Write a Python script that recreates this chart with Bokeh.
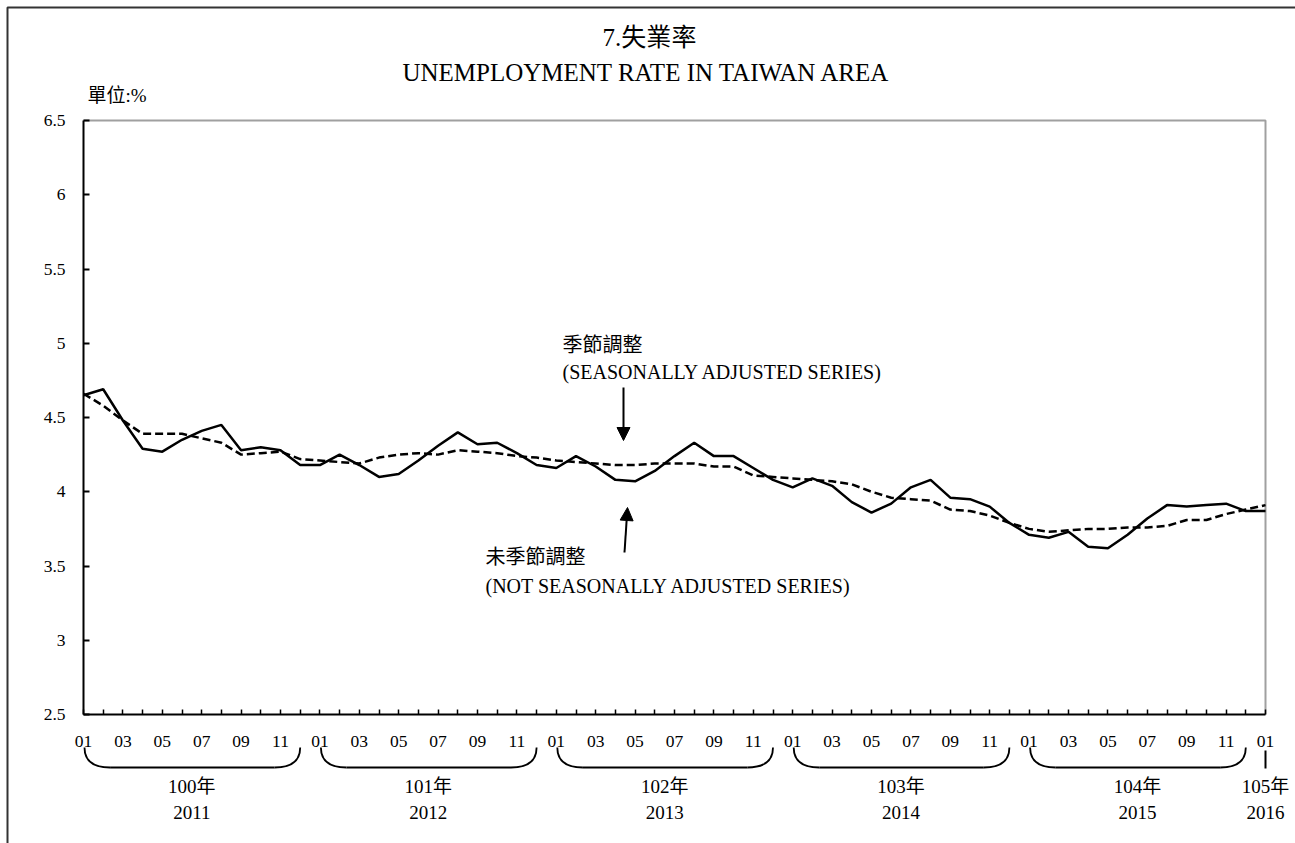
from bokeh.plotting import figure
from bokeh.models import Range1d, FixedTicker, Arrow, NormalHead
from bokeh.core.properties import value
from bokeh.embed import file_html
from bokeh.resources import INLINE

# ---------------- data ----------------
months = ["01", "02", "03", "04", "05", "06", "07", "08", "09", "10", "11", "12"]
roc_years = ["100年", "101年", "102年", "103年", "104年", "105年"]
ad_years = ["2011", "2012", "2013", "2014", "2015", "2016"]

# not seasonally adjusted (2011-01 .. 2016-01)
nsa = [4.65, 4.69, 4.48, 4.29, 4.27, 4.35, 4.41, 4.45, 4.28, 4.30, 4.28, 4.18,
       4.18, 4.25, 4.18, 4.10, 4.12, 4.21, 4.31, 4.40, 4.32, 4.33, 4.26, 4.18,
       4.16, 4.24, 4.17, 4.08, 4.07, 4.14, 4.24, 4.33, 4.24, 4.24, 4.16, 4.08,
       4.03, 4.09, 4.04, 3.93, 3.86, 3.92, 4.03, 4.08, 3.96, 3.95, 3.90, 3.79,
       3.71, 3.69, 3.73, 3.63, 3.62, 3.71, 3.82, 3.91, 3.90, 3.91, 3.92, 3.87,
       3.87]
# seasonally adjusted
sa = [4.66, 4.58, 4.48, 4.39, 4.39, 4.39, 4.36, 4.33, 4.25, 4.26, 4.27, 4.22,
      4.21, 4.20, 4.19, 4.23, 4.25, 4.26, 4.25, 4.28, 4.27, 4.26, 4.24, 4.23,
      4.21, 4.20, 4.19, 4.18, 4.18, 4.19, 4.19, 4.19, 4.17, 4.17, 4.11, 4.10,
      4.09, 4.08, 4.07, 4.05, 4.00, 3.96, 3.95, 3.94, 3.88, 3.87, 3.84, 3.79,
      3.75, 3.73, 3.74, 3.75, 3.75, 3.76, 3.76, 3.77, 3.81, 3.81, 3.85, 3.88,
      3.91]
y_ticks = [2.5, 3, 3.5, 4, 4.5, 5, 5.5, 6, 6.5]
y_tick_labels = ["2.5", "3", "3.5", "4", "4.5", "5", "5.5", "6", "6.5"]

title_zh = "7.失業率"
title_en = "UNEMPLOYMENT RATE IN TAIWAN AREA"
unit_text = "單位:%"
sa_zh = "季節調整"
sa_en = "(SEASONALLY  ADJUSTED SERIES)"
nsa_zh = "未季節調整"
nsa_en = "(NOT SEASONALLY  ADJUSTED SERIES)"

# ---------------- layout (pixels) ----------------
W, H = 1295, 843
FX0, FX1 = 83, 1265      # pixel x of first / last month
FY_BOT, FY_TOP = 714, 120  # pixel y of 2.5 / 6.5
N = len(nsa)
ppx = (FX1 - FX0) / (N - 1)
ppy = (FY_BOT - FY_TOP) / (y_ticks[-1] - y_ticks[0])


def X(px):
    return (px - FX0) / ppx


def Y(py):
    return y_ticks[0] + (FY_BOT - py) / ppy


SERIF = "Liberation Serif, Noto Sans CJK TC"

p = figure(width=W, height=H, output_backend="svg", toolbar_location=None,
           x_range=Range1d(X(0), X(W)), y_range=Range1d(Y(H), Y(0)),
           min_border=0, background_fill_color="white", border_fill_color="white")
p.outline_line_color = None
p.grid.visible = False

xs = list(range(N))

# axes
xa = p.xaxis[0]
xa.fixed_location = y_ticks[0]
xa.bounds = (0, N - 1)
xa.ticker = FixedTicker(ticks=xs)
xa.major_label_overrides = {i: (months[i % 12] if i % 2 == 0 else "") for i in xs}
xa.minor_tick_line_color = None
xa.major_tick_in = 5
xa.major_tick_out = 0
xa.major_tick_line_width = 1.5
xa.axis_line_width = 2
xa.major_label_standoff = 21
xa.major_label_text_font = SERIF
xa.major_label_text_font_size = "17.5px"
xa.major_label_text_color = "black"

ya = p.yaxis[0]
ya.fixed_location = 0
ya.bounds = (y_ticks[0], y_ticks[-1])
ya.ticker = FixedTicker(ticks=y_ticks)
ya.major_label_overrides = {t: l for t, l in zip(y_ticks, y_tick_labels)}
ya.minor_tick_line_color = None
ya.major_tick_in = 6
ya.major_tick_out = 0
ya.major_tick_line_width = 2
ya.axis_line_width = 2
ya.major_label_standoff = 18
ya.major_label_text_font = SERIF
ya.major_label_text_font_size = "17.5px"
ya.major_label_text_color = "black"

# grey frame top / right
p.line([0, N - 1, N - 1], [y_ticks[-1], y_ticks[-1], y_ticks[0]], line_color="#a0a0a0", line_width=2)

# outer border (left/top)
p.line([X(7), X(7), X(W)], [Y(H), Y(7), Y(7)], line_color="#333333", line_width=2)

# series
p.line(xs, sa, line_color="black", line_width=2.5, line_dash="8 4")
p.line(xs, nsa, line_color="black", line_width=2.5)

# titles
p.text(x=[X(649), X(646)], y=[Y(37), Y(72)], text=[title_zh, title_en],
       text_font=value(SERIF), text_font_size="25px", text_align="center",
       text_baseline="middle", text_color="black")
p.text(x=[X(87)], y=[Y(95)], text=[unit_text], text_font=value(SERIF),
       text_font_size="19px", text_align="left", text_baseline="middle", text_color="black")

# annotations
p.text(x=[X(562), X(562), X(485), X(485)], y=[Y(344), Y(371), Y(556), Y(585)],
       text=[sa_zh, sa_en, nsa_zh, nsa_en], text_font=value(SERIF),
       text_font_size="20px", text_align="left", text_baseline="middle", text_color="black")
p.add_layout(Arrow(end=NormalHead(size=13, fill_color="black", line_color="black"),
                   x_start=X(623), y_start=Y(387), x_end=X(623), y_end=Y(440),
                   line_width=2, line_color="black"))
p.add_layout(Arrow(end=NormalHead(size=13, fill_color="black", line_color="black"),
                   x_start=X(624), y_start=Y(552), x_end=X(627), y_end=Y(507),
                   line_width=2, line_color="black"))

# year braces
nyears = len(roc_years) - 1
yt, yb = Y(747), Y(767)
cur = 1.3
bx0 = [12 * k + 0.05 for k in range(nyears)]
bx1 = [12 * k + 11.0 for k in range(nyears)]
p.quadratic(x0=bx0, y0=[yt] * nyears, x1=[b + cur for b in bx0], y1=[yb] * nyears,
            cx=bx0, cy=[yb] * nyears, line_color="black", line_width=1.8)
p.segment(x0=[b + cur for b in bx0], y0=[yb] * nyears, x1=[b - cur for b in bx1], y1=[yb] * nyears,
          line_color="black", line_width=1.8)
p.quadratic(x0=[b - cur for b in bx1], y0=[yb] * nyears, x1=bx1, y1=[yt] * nyears,
            cx=bx1, cy=[yb] * nyears, line_color="black", line_width=1.8)
p.segment(x0=[N - 1], y0=[Y(750)], x1=[N - 1], y1=[Y(768)], line_color="black", line_width=2)

year_x = [12 * k + 5.5 for k in range(nyears)] + [N - 1]
p.text(x=year_x, y=[Y(786)] * len(year_x), text=roc_years, text_font=value(SERIF),
       text_font_size="19px", text_align="center", text_baseline="middle", text_color="black")
p.text(x=year_x, y=[Y(812)] * len(year_x), text=ad_years, text_font=value(SERIF),
       text_font_size="19px", text_align="center", text_baseline="middle", text_color="black")

open("out.html", "w").write(file_html(p, INLINE))
